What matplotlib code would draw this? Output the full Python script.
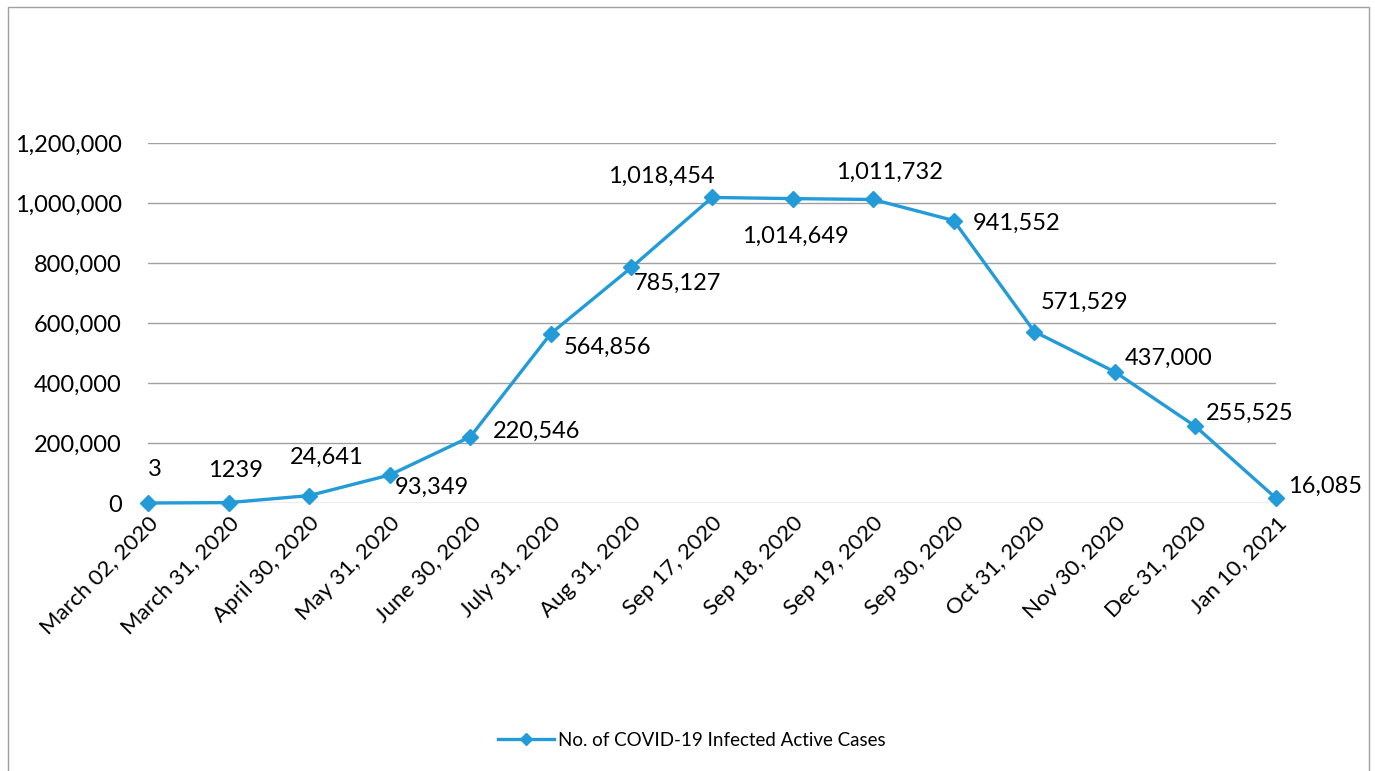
import matplotlib

matplotlib.use("Agg")

import matplotlib.pyplot as plt  # noqa: E402
from matplotlib.lines import Line2D  # noqa: E402
from matplotlib.patches import Rectangle  # noqa: E402
from matplotlib.ticker import FuncFormatter  # noqa: E402

plt.rcParams["font.family"] = ["Lato", "DejaVu Sans"]

dates = [
    "March 02, 2020", "March 31, 2020", "April 30, 2020", "May 31, 2020",
    "June 30, 2020", "July 31, 2020", "Aug 31, 2020", "Sep 17, 2020",
    "Sep 18, 2020", "Sep 19, 2020", "Sep 30, 2020", "Oct 31, 2020",
    "Nov 30, 2020", "Dec 31, 2020", "Jan 10, 2021",
]
active_cases = [
    3, 1239, 24641, 93349, 220546, 564856, 785127, 1018454,
    1014649, 1011732, 941552, 571529, 437000, 255525, 16085,
]
value_labels = [
    "3", "1239", "24,641", "93,349", "220,546", "564,856", "785,127", "1,018,454",
    "1,014,649", "1,011,732", "941,552", "571,529", "437,000", "255,525", "16,085",
]
series_name = "No. of COVID-19 Infected Active Cases"

# label placement (offset in pixels, horizontal alignment)
LABEL_POS = [
    (7, 33, "center"), (7, 32, "center"), (18, 38, "center"), (5, -12, "left"),
    (23, 5, "left"), (13, -14, "left"), (2, -16, "left"), (-51, 21, "center"),
    (3, -38, "center"), (16, 27, "center"), (19, -3, "left"), (6, 29, "left"),
    (10, 14, "left"), (10, 13, "left"), (12, 12, "left"),
]

LINE_BLUE = "#229bd8"
GRID = "#a0a0a0"
FS = 17

fig = plt.figure(figsize=(13.75, 7.71), dpi=100)
ax = fig.add_axes([148 / 1375, 268 / 771, 1128 / 1375, 360 / 771])

x = list(range(len(dates)))
ax.plot(x, active_cases, color=LINE_BLUE, lw=2.4, marker="D", ms=8,
        zorder=3, clip_on=False)

for i, (val, txt) in enumerate(zip(active_cases, value_labels)):
    dx, dy, ha = LABEL_POS[i]
    ax.annotate(txt, (i, val), xytext=(dx, dy), textcoords="offset pixels",
                ha=ha, va="center", fontsize=FS, color="#000000")

ax.set_xlim(0, len(dates) - 1)
ax.set_ylim(0, 1200000)
ax.set_yticks(range(0, 1200001, 200000))
ax.yaxis.set_major_formatter(FuncFormatter(lambda v, _: f"{v:,.0f}"))
ax.grid(axis="y", color=GRID, lw=1)
ax.set_axisbelow(True)
for s in ax.spines.values():
    s.set_visible(False)
ax.tick_params(axis="both", length=0, labelsize=FS)
ax.tick_params(axis="y", pad=19)
ax.tick_params(axis="x", pad=7, labelsize=16)
ax.set_xticks(x)
ax.set_xticklabels(dates, rotation=45, ha="right", va="top", rotation_mode="anchor")

handle = Line2D([], [], color=LINE_BLUE, lw=2.4, marker="D", ms=6)
fig.legend([handle], [series_name], loc="center", bbox_to_anchor=(0.503, 0.04),
           frameon=False, fontsize=13.5, handlelength=3.0, handletextpad=0.2)

fig.patches.append(Rectangle((8 / 1375, -0.05), 1361 / 1375, 1.05 - 7 / 771,
                             transform=fig.transFigure, fill=False,
                             edgecolor="#a0a0a0", lw=1))

fig.savefig("out.png", dpi=100)
